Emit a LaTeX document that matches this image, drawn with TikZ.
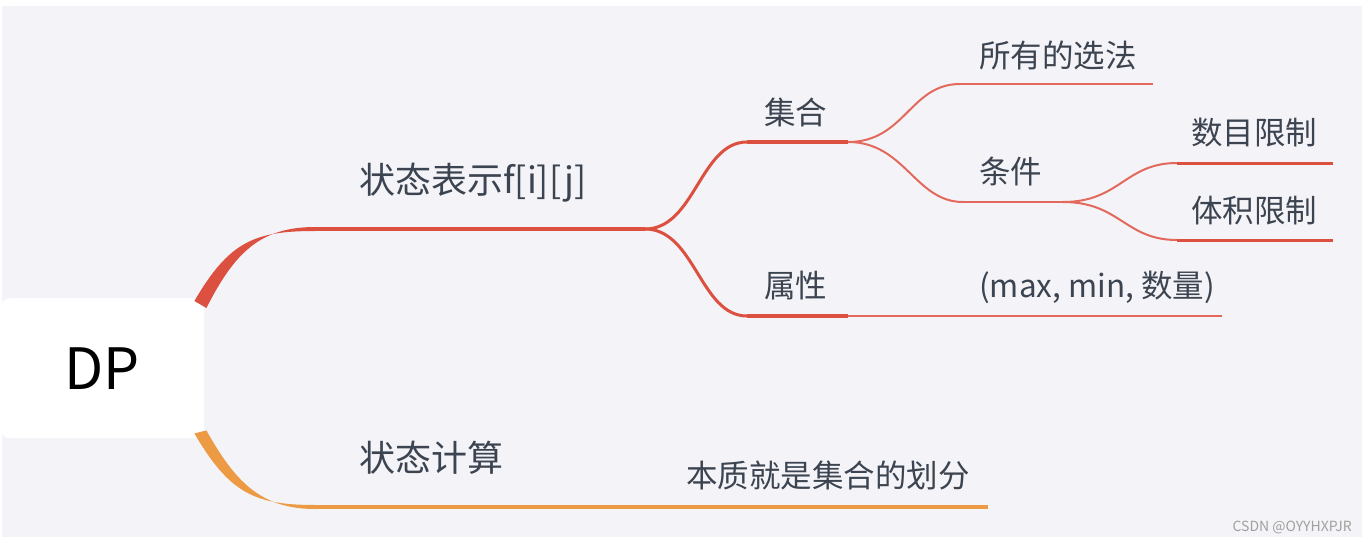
\documentclass[tikz,border=0pt]{standalone}
\usepackage{fontspec}
\setmainfont{Noto Sans CJK SC}
\definecolor{bg}{HTML}{F4F4F8}
\definecolor{redA}{HTML}{DC5040}
\definecolor{redB}{HTML}{E4695D}
\definecolor{orA}{HTML}{EC9A44}
\definecolor{txt}{HTML}{3B4450}
\definecolor{wm}{HTML}{A0A0A0}
\begin{document}
\begin{tikzpicture}[x=1pt,y=-1pt,
  lbl/.style={anchor=west,inner sep=0pt,text=txt,font=\fontsize{31.5}{31.5}\selectfont},
  lblone/.style={lbl,font=\fontsize{36}{36}\selectfont},
  thick1/.style={draw=redA,line width=3.5pt},
  thick2/.style={draw=redA,line width=4pt},
  link2/.style={draw=redA,line width=3pt},
  link3/.style={draw=redB,line width=2pt},
  line3/.style={draw=redB,line width=2pt},
  line4/.style={draw=redA,line width=3pt},
  orline/.style={draw=orA,line width=4pt}]
\useasboundingbox (0,0) rectangle (1367,541);
\fill[white] (0,0) rectangle (1367,541);
\fill[bg] (2,6) rectangle (1362,537);

% root
\node[fill=white, rounded corners=10pt, minimum width=204pt, minimum height=140pt,
      anchor=north west, inner sep=0pt, font=\fontsize{57}{57}\selectfont, text=black] (root) at (0,298) {DP};

% coordinates
\coordinate (k1s) at (315,229);
\coordinate (k1e) at (645,229);
\coordinate (jha) at (747,142);
\coordinate (jhb) at (848,142);
\coordinate (sxa) at (747,316);
\coordinate (sxb) at (848,316);
\coordinate (sxc) at (1222,316);
\coordinate (xfa) at (960,84);
\coordinate (xfb) at (1153,84);
\coordinate (tja) at (963,202);
\coordinate (tjb) at (1063,202);
\coordinate (sma) at (1177,163);
\coordinate (smb) at (1333,163);
\coordinate (tta) at (1177,240);
\coordinate (ttb) at (1333,240);
\coordinate (ors) at (315,507);
\coordinate (ore) at (988,507);

% level 1 red (tapered)
\fill[redA] ([shift={(-10,3)}]root.north east) .. controls +(35,-60) and +(-60,0) .. ([yshift=-2]k1s)
   -- ([yshift=2]k1s) .. controls +(-55,0) and +(28,-55) .. ([shift={(2,10)}]root.north east) -- cycle;
\draw[thick1] (k1s) -- (k1e);
\draw[link2] (k1e) .. controls (695,229) and (700,142) .. (jha);
\draw[link2] (k1e) .. controls (695,229) and (700,316) .. (sxa);
\draw[thick2] (jha) -- (jhb);
\draw[thick2] (sxa) -- (sxb);
\draw[line3] (sxb) -- (sxc);
\draw[link3] (jhb) .. controls (905,142) and (910,84) .. (xfa);
\draw[link3] (jhb) .. controls (905,142) and (915,202) .. (tja);
\draw[line3] (xfa) -- (xfb);
\draw[draw=redB,line width=2.5pt] (tja) -- (tjb);
\draw[link3] (tjb) .. controls (1120,202) and (1125,163) .. (sma);
\draw[link3] (tjb) .. controls (1120,202) and (1125,240) .. (tta);
\draw[line4] (sma) -- (smb);
\draw[line4] (tta) -- (ttb);

% orange (tapered)
\fill[orA] ([shift={(-10,-5)}]root.south east) .. controls +(35,60) and +(-60,0) .. ([yshift=2]ors)
   -- ([yshift=-2]ors) .. controls +(-55,0) and +(28,50) .. ([shift={(2,-8)}]root.south east) -- cycle;
\draw[orline] (ors) -- (ore);

% labels
\node[lblone] (l1a) at (359,183) {状态表示f[i][j]};
\node[lblone] (l1b) at (359,458) {状态计算};
\node[lbl] (l2a) at (764,112) {集合};
\node[lbl] (l2b) at (764,286) {属性};
\node[lbl] (l3a) at (979,55) {所有的选法};
\node[lbl] (l3b) at (979,171) {条件};
\node[lbl] (l3c) at (979,287) {(max, min, 数量)};
\node[lbl] (l4a) at (1191,133) {数目限制};
\node[lbl] (l4b) at (1191,211) {体积限制};
\node[lbl] (l2c) at (686,476) {本质就是集合的划分};
\node[anchor=east,inner sep=0pt,text=wm,font=\fontsize{14}{14}\selectfont] (wmk) at (1352,527) {CSDN @OYYHXPJR};
\end{tikzpicture}
\end{document}
